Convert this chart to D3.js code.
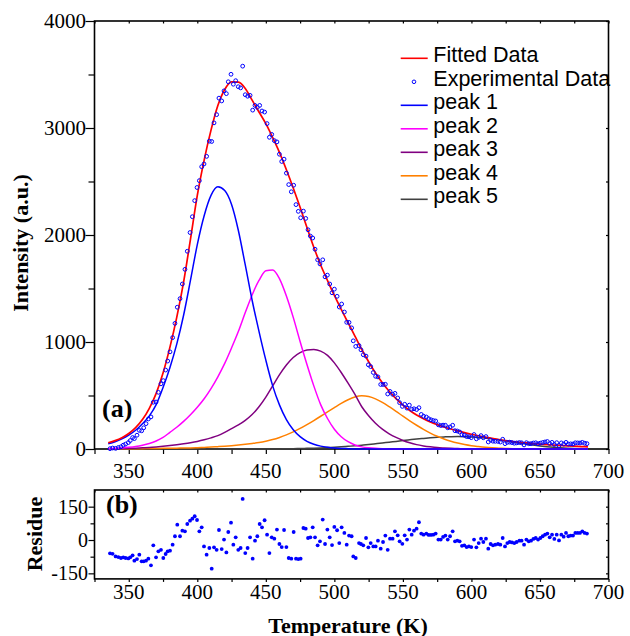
<!DOCTYPE html>
<html>
<head>
<meta charset="utf-8">
<script src="https://cdn.jsdelivr.net/npm/d3@7"></script>
<style>
  html, body { margin: 0; padding: 0; background: #fff; }
  svg { display: block; }
</style>
</head>
<body>
<svg id="chart" width="630" height="636"></svg>
<script>
// ---- Fitted glow curve and its five component peaks, sampled every 5 K ----
const tempGrid = [
  335, 340, 345, 350, 355, 360, 365, 370, 375, 380,
  385, 390, 395, 400, 405, 410, 415, 420, 425, 430,
  435, 440, 445, 450, 455, 460, 465, 470, 475, 480,
  485, 490, 495, 500, 505, 510, 515, 520, 525, 530,
  535, 540, 545, 550, 555, 560, 565, 570, 575, 580,
  585, 590, 595, 600, 605, 610, 615, 620, 625, 630,
  635, 640, 645, 650, 655, 660, 665, 670, 675, 680, 685
];
const fitted = [
  58, 78, 106, 145, 200, 275, 380, 520, 710, 950,
  1230, 1560, 1960, 2370, 2700, 2980, 3210, 3360, 3432, 3428,
  3370, 3260, 3150, 3040, 2910, 2770, 2610, 2440, 2260, 2070,
  1885, 1720, 1575, 1435, 1305, 1180, 1055, 930, 815, 710,
  620, 540, 470, 410, 360, 318, 283, 253, 228, 206,
  187, 170, 153, 138, 124, 111, 99, 88, 78, 70,
  63, 57, 51, 46, 41, 37, 33, 29, 26, 23, 20
];
const peak1 = [
  48, 68, 95, 130, 175, 235, 310, 415, 575, 760,
  980, 1250, 1575, 1910, 2180, 2370, 2450, 2415, 2285, 2040,
  1720, 1390, 1100, 830, 590, 410, 275, 180, 115, 72,
  45, 27, 16, 9, 5, 3, 1, 0, 0, 0,
  0, 0, 0, 0, 0, 0, 0, 0, 0, 0,
  0, 0, 0, 0, 0, 0, 0, 0, 0, 0,
  0, 0, 0, 0, 0, 0, 0, 0, 0, 0, 0
];
const peak2 = [
  3, 6, 10, 16, 24, 36, 52, 75, 108, 155,
  203, 258, 320, 390, 470, 565, 675, 800, 945, 1100,
  1275, 1440, 1575, 1665, 1672, 1590, 1430, 1230, 1005, 790,
  590, 415, 285, 185, 115, 68, 38, 20, 11, 6,
  3, 1, 0, 0, 0, 0, 0, 0, 0, 0,
  0, 0, 0, 0, 0, 0, 0, 0, 0, 0,
  0, 0, 0, 0, 0, 0, 0, 0, 0, 0, 0
];
const peak3 = [
  2, 3, 4, 6, 8, 11, 14, 19, 25, 32,
  40, 49, 59, 71, 86, 104, 125, 155, 190, 225,
  268, 322, 395, 485, 590, 695, 785, 855, 900, 925,
  930, 915, 875, 805, 715, 615, 510, 395, 310, 240,
  185, 142, 108, 80, 58, 41, 29, 20, 13, 9,
  6, 4, 2, 1, 0, 0, 0, 0, 0, 0,
  0, 0, 0, 0, 0, 0, 0, 0, 0, 0, 0
];
const peak4 = [
  1, 1, 2, 2, 3, 3, 4, 5, 6, 7,
  8, 9, 10, 12, 15, 18, 22, 26, 31, 37,
  44, 52, 61, 73, 88, 108, 132, 160, 192, 228,
  266, 306, 347, 387, 426, 460, 486, 497, 490, 468,
  435, 395, 352, 307, 263, 222, 184, 149, 119, 94,
  73, 56, 42, 31, 23, 16, 11, 8, 5, 3,
  2, 1, 1, 0, 0, 0, 0, 0, 0, 0, 0
];
const peak5 = [
  0, 0, 0, 0, 0, 0, 0, 0, 0, 0,
  0, 0, 0, 0, 0, 0, 0, 0, 0, 0,
  0, 0, 0, 0, 0, 1, 2, 3, 4, 6,
  8, 10, 13, 16, 20, 25, 30, 36, 42, 49,
  56, 64, 71, 79, 86, 93, 99, 105, 110, 113,
  115, 116, 115, 112, 108, 102, 95, 86, 76, 66,
  56, 46, 37, 29, 22, 16, 11, 7, 4, 2, 1
];

// ---- Measured points and fit residue ----
const expTemp = [
  336.3, 338.2, 340.4, 342.4, 344.3, 346.0, 347.7, 349.7, 351.1, 352.8,
  354.1, 356.0, 357.7, 359.4, 360.9, 362.6, 364.3, 366.2, 367.9, 369.9,
  371.6, 373.5, 375.2, 376.9, 378.4, 380.1, 382.0, 383.7, 385.4, 387.4,
  389.1, 391.0, 392.7, 394.7, 396.4, 398.1, 399.8, 401.5, 403.2, 404.9,
  406.8, 408.8, 410.5, 412.2, 414.1, 415.8, 417.8, 419.5, 421.2, 422.6,
  424.6, 426.3, 428.0, 429.9, 431.6, 433.1, 435.0, 436.7, 438.5, 440.4,
  442.1, 443.8, 445.5, 447.2, 449.1, 450.9, 452.6, 454.3, 456.2, 458.1,
  459.9, 461.6, 463.3, 465.0, 466.7, 468.6, 470.3, 472.0, 473.7, 475.4,
  477.4, 479.1, 480.8, 482.5, 484.2, 485.9, 487.8, 489.5, 491.5, 493.2,
  494.9, 496.6, 498.3, 500.0, 502.0, 503.6, 505.3, 507.3, 509.0, 510.7,
  512.6, 513.8, 515.6, 518.0, 519.4, 521.1, 523.1, 524.8, 526.5, 528.4,
  530.1, 531.8, 533.8, 535.5, 537.2, 538.9, 540.6, 542.5, 544.2, 546.2,
  547.6, 549.6, 551.3, 553.0, 554.7, 556.4, 558.1, 560.0, 561.7, 563.4,
  565.1, 567.1, 568.8, 570.5, 572.2, 573.9, 575.9, 577.6, 579.3, 581.0,
  582.7, 584.4, 586.3, 588.0, 589.7, 591.4, 593.1, 594.8, 596.5, 598.2,
  599.9, 601.9, 603.6, 605.3, 607.0, 608.7, 610.6, 612.3, 614.0, 615.7,
  617.4, 619.4, 621.1, 622.8, 624.5, 626.2, 627.9, 629.6, 631.3, 633.0,
  635.0, 636.6, 638.4, 640.1, 641.8, 643.5, 645.2, 646.9, 648.6, 650.3,
  652.0, 653.7, 655.4, 657.1, 658.8, 660.5, 662.2, 663.9, 665.6, 667.3,
  669.0, 670.7, 672.4, 674.1, 675.8, 677.5, 679.2, 680.9, 682.6, 684.3
];
const expIntensity = [
  3, 9, 6, 14, 21, 36, 46, 60, 79, 107,
  97, 129, 174, 170, 198, 237, 281, 300, 437, 439,
  530, 609, 639, 738, 822, 908, 1041, 1174, 1325, 1405,
  1542, 1679, 1848, 2023, 2171, 2321, 2444, 2508, 2638, 2664,
  2735, 2877, 2874, 3048, 3125, 3279, 3253, 3347, 3321, 3432,
  3502, 3409, 3442, 3386, 3375, 3578, 3311, 3297, 3305, 3167,
  3211, 3193, 3211, 3159, 3149, 3041, 2913, 2940, 2882, 2870,
  2755, 2687, 2709, 2578, 2471, 2404, 2465, 2284, 2221, 2161,
  2223, 2155, 2049, 1990, 1972, 1867, 1768, 1730, 1768, 1609,
  1625, 1542, 1460, 1494, 1427, 1327, 1355, 1280, 1184, 1183,
  1132, 1011, 959, 966, 927, 881, 868, 787, 770, 715,
  679, 674, 603, 603, 605, 514, 538, 511, 520, 477,
  433, 398, 418, 382, 410, 372, 376, 369, 386, 323,
  306, 299, 283, 273, 266, 262, 226, 219, 223, 222,
  198, 206, 222, 171, 168, 159, 133, 130, 116, 114,
  106, 135, 95, 109, 125, 105, 116, 66, 83, 73,
  72, 71, 65, 91, 50, 62, 64, 60, 54, 57,
  60, 58, 38, 59, 49, 50, 56, 58, 49, 55,
  61, 66, 70, 51, 62, 42, 59, 32, 57, 46,
  62, 46, 48, 47, 58, 57, 56, 62, 54, 50
];
const residue = [
  -60, -62, -74, -77, -81, -78, -81, -83, -78, -69,
  -93, -86, -66, -96, -96, -93, -84, -114, -24, -78,
  -51, -44, -81, -63, -51, -48, -21, 17, 69, 17,
  42, 39, 72, 87, 96, 107, 90, 39, 57, -29,
  -66, -36, -129, -33, -44, 45, -41, 2, -56, 36,
  78, -21, 12, -44, -36, 185, -59, -36, 12, -84,
  -3, 17, 72, 57, 89, 24, -59, 12, 6, 47,
  -18, -32, 45, -32, -81, -84, 36, -84, -86, -84,
  54, 51, 9, 12, 57, 12, -24, -6, 92, -18,
  47, 12, -23, 59, 44, -14, 57, 32, -21, 20,
  17, -74, -81, -14, -18, -24, 9, -33, -14, -29,
  -29, -3, -39, -9, 20, -44, 6, 6, 39, 21,
  -6, -17, 21, 2, 47, 24, 42, 51, 80, 29,
  24, 29, 23, 23, 24, 29, 2, 2, 14, 20,
  2, 17, 39, -6, -3, -6, -26, -24, -32, -29,
  -32, 2, -33, -14, 6, -9, 6, -39, -18, -24,
  -21, -18, -21, 9, -29, -14, -9, -11, -14, -9,
  -3, -3, -21, 2, -6, -3, 5, 9, 2, 9,
  17, 24, 29, 12, 24, 5, 24, -2, 24, 15,
  32, 17, 20, 20, 32, 32, 32, 39, 32, 29
];

// ---- Axis ticks and labels ----
const xMinorTicks = [325, 350, 375, 400, 425, 450, 475, 500, 525, 550, 575, 600, 625, 650, 675, 700];
const xTickLabels = [350, 400, 450, 500, 550, 600, 650, 700];
const intensityTicks = [0, 1000, 2000, 3000, 4000];
const intensityMinor = [500, 1500, 2500, 3500];
const residueTicks = [-150, 0, 150];
const residueMinor = [-75, 75];

const legendItems = [
  { label: "Fitted Data", color: "#ff0000", kind: "line" },
  { label: "Experimental Data", color: "#0000ff", kind: "dot" },
  { label: "peak 1", color: "#0000ff", kind: "line" },
  { label: "peak 2", color: "#ff00ff", kind: "line" },
  { label: "peak 3", color: "#800080", kind: "line" },
  { label: "peak 4", color: "#ff8000", kind: "line" },
  { label: "peak 5", color: "#404040", kind: "line" }
];
const peakSeries = [
  { values: peak5, color: "#404040" },
  { values: peak4, color: "#ff8000" },
  { values: peak3, color: "#800080" },
  { values: peak2, color: "#ff00ff" },
  { values: peak1, color: "#0000ff" }
];

// ---- Drawing ----
const serif = '"Liberation Serif", "Times New Roman", serif';
const sans = '"Liberation Sans", Arial, sans-serif';
const svg = d3.select("#chart");

const x = d3.scaleLinear().domain([325, 700]).range([94.5, 608.5]);
const yI = d3.scaleLinear().domain([0, 4000]).range([449, 21]);
const yR = d3.scaleLinear().domain([-175, 225]).range([578.9, 490]);

function ticksOnly(g) {
  g.select(".domain").remove();
  g.selectAll("line").attr("stroke", "#000").attr("stroke-width", 1.2);
}

function framePanel(yScale) {
  const [y0, y1] = yScale.range();
  svg.append("rect")
    .attr("x", x(325)).attr("y", y1)
    .attr("width", x(700) - x(325)).attr("height", y0 - y1)
    .attr("fill", "none").attr("stroke", "#000").attr("stroke-width", 1.6);
}

// Upper panel: intensity
framePanel(yI);
svg.append("g").attr("transform", `translate(0,${yI(0)})`)
  .call(d3.axisBottom(x).tickValues(xMinorTicks).tickSize(5).tickFormat("")).call(ticksOnly);
svg.append("g").attr("transform", `translate(0,${yI(4000)})`)
  .call(d3.axisBottom(x).tickValues(xMinorTicks).tickSize(2.5).tickFormat("")).call(ticksOnly);
svg.append("g").attr("transform", `translate(${x(325)},0)`)
  .call(d3.axisLeft(yI).tickValues(intensityTicks).tickSize(9).tickFormat("")).call(ticksOnly);
svg.append("g").attr("transform", `translate(${x(325)},0)`)
  .call(d3.axisLeft(yI).tickValues(intensityMinor).tickSize(6).tickFormat("")).call(ticksOnly);
svg.append("g").attr("transform", `translate(${x(700)},0)`)
  .call(d3.axisLeft(yI).tickValues(intensityTicks.concat(intensityMinor)).tickSize(2.5).tickFormat("")).call(ticksOnly);

svg.append("g").selectAll("text").data(xTickLabels).join("text")
  .attr("x", d => x(d)).attr("y", 478)
  .attr("text-anchor", "middle").attr("font-family", serif).attr("font-size", 21)
  .text(d => d);
svg.append("g").selectAll("text").data(intensityTicks).join("text")
  .attr("x", 86).attr("y", d => yI(d)).attr("dy", "0.35em")
  .attr("text-anchor", "end").attr("font-family", serif).attr("font-size", 21)
  .text(d => d);

// Component peaks, fitted sum, measured points
const curve = d3.line()
  .x((d, i) => x(tempGrid[i]))
  .y(d => yI(d))
  .curve(d3.curveMonotoneX);

svg.append("g").selectAll("path").data(peakSeries).join("path")
  .attr("d", d => curve(d.values))
  .attr("fill", "none").attr("stroke", d => d.color).attr("stroke-width", 1.5);

svg.append("path").attr("d", curve(fitted))
  .attr("fill", "none").attr("stroke", "#ff0000").attr("stroke-width", 1.7);

svg.append("g").selectAll("circle").data(expIntensity).join("circle")
  .attr("cx", (d, i) => x(expTemp[i])).attr("cy", d => yI(d)).attr("r", 1.9)
  .attr("fill", "none").attr("stroke", "#0000ff").attr("stroke-width", 1);

// Legend
const legend = svg.append("g");
legendItems.forEach((item, i) => {
  const ly = 58.3 + i * 23.5;
  if (item.kind === "line") {
    legend.append("line").attr("x1", 400.7).attr("x2", 427.7).attr("y1", ly).attr("y2", ly)
      .attr("stroke", item.color).attr("stroke-width", 1.6);
  } else {
    legend.append("circle").attr("cx", 414).attr("cy", ly).attr("r", 1.8)
      .attr("fill", "none").attr("stroke", item.color).attr("stroke-width", 1);
  }
  legend.append("text").attr("x", 433.3).attr("y", ly + 4)
    .attr("font-family", sans).attr("font-size", 21.5).attr("fill", "#000")
    .text(item.label);
});

svg.append("text").attr("x", 102).attr("y", 417)
  .attr("font-family", serif).attr("font-weight", "bold").attr("font-size", 26).text("(a)");

svg.append("text")
  .attr("transform", "translate(28,243) rotate(-90)")
  .attr("text-anchor", "middle").attr("font-family", serif).attr("font-weight", "bold")
  .attr("font-size", 22).text("Intensity (a.u.)");

// Lower panel: residue
framePanel(yR);
svg.append("g").attr("transform", `translate(0,${yR.range()[0]})`)
  .call(d3.axisBottom(x).tickValues(xMinorTicks).tickSize(3).tickFormat("")).call(ticksOnly);
svg.append("g").attr("transform", `translate(0,${yR.range()[1]})`)
  .call(d3.axisBottom(x).tickValues(xMinorTicks).tickSize(2.5).tickFormat("")).call(ticksOnly);
svg.append("g").attr("transform", `translate(${x(325)},0)`)
  .call(d3.axisLeft(yR).tickValues(residueTicks).tickSize(6).tickFormat("")).call(ticksOnly);
svg.append("g").attr("transform", `translate(${x(325)},0)`)
  .call(d3.axisLeft(yR).tickValues(residueMinor).tickSize(4).tickFormat("")).call(ticksOnly);
svg.append("g").attr("transform", `translate(${x(700)},0)`)
  .call(d3.axisLeft(yR).tickValues(residueTicks.concat(residueMinor)).tickSize(2.5).tickFormat("")).call(ticksOnly);

svg.append("g").selectAll("text").data(xTickLabels).join("text")
  .attr("x", d => x(d)).attr("y", 599)
  .attr("text-anchor", "middle").attr("font-family", serif).attr("font-size", 21)
  .text(d => d);
svg.append("g").selectAll("text").data(residueTicks).join("text")
  .attr("x", 88).attr("y", d => yR(d)).attr("dy", "0.35em")
  .attr("text-anchor", "end").attr("font-family", serif).attr("font-size", 20)
  .text(d => d);

svg.append("g").selectAll("circle").data(residue).join("circle")
  .attr("cx", (d, i) => x(expTemp[i])).attr("cy", d => yR(d)).attr("r", 1.9)
  .attr("fill", "#0000ff");

svg.append("text").attr("x", 106).attr("y", 513)
  .attr("font-family", serif).attr("font-weight", "bold").attr("font-size", 26).text("(b)");

svg.append("text")
  .attr("transform", "translate(42,534) rotate(-90)")
  .attr("text-anchor", "middle").attr("font-family", serif).attr("font-weight", "bold")
  .attr("font-size", 22).text("Residue");

svg.append("text").attr("x", 348).attr("y", 632.5)
  .attr("text-anchor", "middle").attr("font-family", serif).attr("font-weight", "bold")
  .attr("font-size", 22).text("Temperature (K)");
</script>
</body>
</html>
